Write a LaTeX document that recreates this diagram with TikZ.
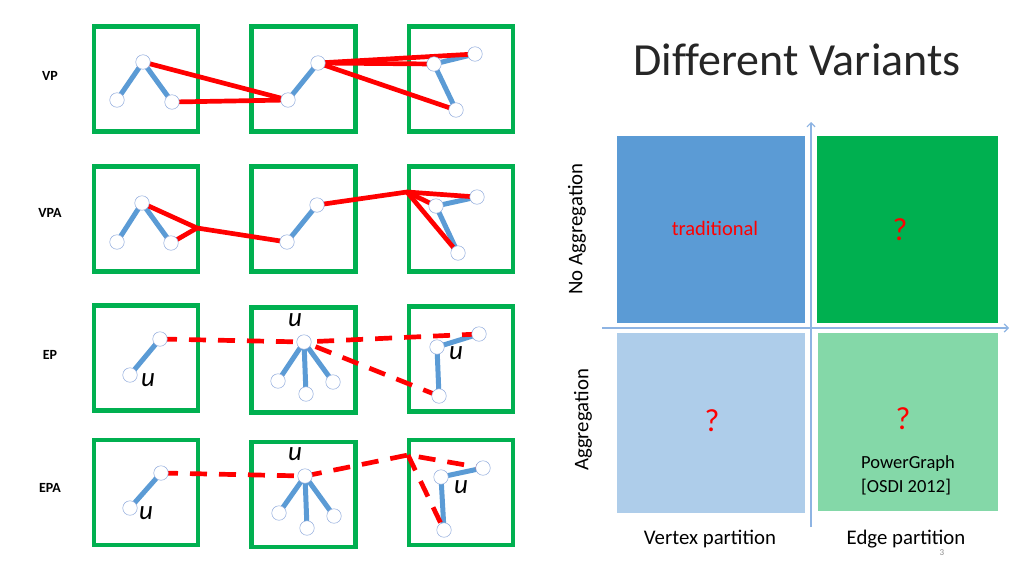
\documentclass[tikz,border=0pt]{standalone}
\usepackage{fontspec}
\setmainfont{Carlito}
\usetikzlibrary{arrows.meta}
\definecolor{boxgreen}{HTML}{00B050}
\definecolor{edgeblue}{HTML}{5B9BD5}
\definecolor{ringblue}{HTML}{8FAADC}
\definecolor{vred}{HTML}{FF0000}
\definecolor{qblue}{HTML}{5B9BD5}
\definecolor{qgreen}{HTML}{00B050}
\definecolor{qlblue}{HTML}{AECDEA}
\definecolor{qlgreen}{HTML}{84D8A8}
\definecolor{axisblue}{HTML}{8EB4E3}
\newfontfamily\titlefont[Ligatures=NoCommon]{Carlito}
\begin{document}
\begin{tikzpicture}[x=1pt,y=-1pt,
  part/.style={draw=boxgreen,line width=4.6pt,minimum width=104pt,minimum height=105pt,inner sep=0pt},
  v/.style={circle,draw=ringblue,fill=white,minimum size=14.5pt,inner sep=0pt,line width=0.5pt},
  be/.style={draw=edgeblue,line width=5pt},
  re/.style={draw=vred,line width=4.7pt},
  rd/.style={draw=vred,line width=4.7pt,dash pattern=on 17pt off 12pt},
  rowlab/.style={font=\bfseries\fontsize{14}{16}\selectfont},
  ulab/.style={font=\itshape\fontsize{27}{30}\selectfont},
  quad/.style={inner sep=0pt,draw=none},
  qtext/.style={text=vred,font=\fontsize{20.5}{24}\selectfont},
  qmark/.style={text=vred,font=\fontsize{32}{36}\selectfont},
  btext/.style={font=\fontsize{20.8}{24}\selectfont},
  axis/.style={draw=axisblue,line width=1.2pt,-{Straight Barb[length=4pt,width=8pt]}}]
\useasboundingbox (0,0) rectangle (1024,576);

% ---------- partition boxes ----------
\node[part] (p11) at (146,79) {};
\node[part] (p12) at (303.5,79) {};
\node[part] (p13) at (461,79) {};
\node[part] (p21) at (146,219) {};
\node[part] (p22) at (303.5,219) {};
\node[part] (p23) at (461,219) {};
\node[part] (p31) at (146,358) {};
\node[part] (p32) at (303.5,360) {};
\node[part] (p33) at (461,359) {};
\node[part] (p41) at (146,492.5) {};
\node[part] (p42) at (303.5,494.5) {};
\node[part] (p43) at (461,492.5) {};

% ---------- row labels ----------
\node[rowlab] (lvp) at (50,76) {VP};
\node[rowlab] (lvpa) at (50,213) {VPA};
\node[rowlab] (lep) at (50,355) {EP};
\node[rowlab] (lepa) at (50,488) {EPA};

% ---------- VP row ----------
\coordinate (a1) at (143,62);
\coordinate (b1) at (117,100);
\coordinate (c1) at (172,102);
\coordinate (d1) at (288,100);
\coordinate (e1) at (318,63);
\coordinate (f1) at (434,64);
\coordinate (g1) at (475,54);
\coordinate (h1) at (456,110);
\draw[be] (a1) -- (b1);
\draw[be] (a1) -- (c1);
\draw[be] (d1) -- (e1);
\draw[be] (f1) -- (g1);
\draw[be] (f1) -- (h1);
\draw[re] (a1) -- (d1);
\draw[re] (c1) -- (d1);
\draw[re] (e1) -- (g1);
\draw[re] (e1) -- (f1);
\draw[re] (e1) -- (h1);
\foreach \n in {a1,b1,c1,d1,e1,f1,g1,h1} \node[v] (n\n) at (\n) {};

% ---------- VPA row ----------
\coordinate (a2) at (142,203);
\coordinate (b2) at (117,242);
\coordinate (c2) at (171,243);
\coordinate (j21) at (197,228);
\coordinate (d2) at (287,242);
\coordinate (e2) at (317,205);
\coordinate (j22) at (407,192);
\coordinate (f2) at (436,206);
\coordinate (g2) at (477,197);
\coordinate (h2) at (458,253);
\draw[be] (a2) -- (b2);
\draw[be] (a2) -- (c2);
\draw[be] (d2) -- (e2);
\draw[be] (f2) -- (g2);
\draw[be] (f2) -- (h2);
\draw[re,line join=round] (a2) -- (j21) -- (d2);
\draw[re,line join=round] (c2) -- (j21);
\draw[re,line join=round] (e2) -- (j22) -- (g2);
\draw[re] (j22) -- (f2);
\draw[re] (j22) -- (h2);
\foreach \n in {a2,b2,c2,d2,e2,f2,g2,h2} \node[v] (n\n) at (\n) {};

% ---------- EP row ----------
\coordinate (a3) at (160,339);
\coordinate (b3) at (130,375);
\coordinate (c3) at (304,342);
\coordinate (l31) at (278,381);
\coordinate (l32) at (306,394);
\coordinate (l33) at (333,382);
\coordinate (d3) at (437,347);
\coordinate (e3) at (479,334);
\coordinate (f3) at (439,396);
\draw[be] (a3) -- (b3);
\draw[be] (c3) -- (l31);
\draw[be] (c3) -- (l32);
\draw[be] (c3) -- (l33);
\draw[be] (d3) -- (e3);
\draw[be] (d3) -- (f3);
\draw[rd] (a3) -- (c3);
\draw[rd] (e3) -- (c3);
\draw[rd] (f3) -- (c3);
\foreach \n in {a3,b3,c3,l31,l32,l33,d3,e3,f3} \node[v] (n\n) at (\n) {};
\node[ulab] (u31) at (148,380) {u};
\node[ulab] (u32) at (295,320) {u};
\node[ulab] (u33) at (456,353) {u};

% ---------- EPA row ----------
\coordinate (a4) at (161,473);
\coordinate (b4) at (130,508);
\coordinate (c4) at (305,476);
\coordinate (l41) at (279,513);
\coordinate (l42) at (307,528);
\coordinate (l43) at (334,516);
\coordinate (j4) at (408,455);
\coordinate (d4) at (441,477);
\coordinate (e4) at (483,468);
\coordinate (f4) at (444,530);
\draw[be] (a4) -- (b4);
\draw[be] (c4) -- (l41);
\draw[be] (c4) -- (l42);
\draw[be] (c4) -- (l43);
\draw[be] (d4) -- (e4);
\draw[be] (d4) -- (f4);
\draw[rd] (a4) -- (c4);
\draw[rd] (c4) -- (j4) -- (e4);
\draw[rd] (j4) -- (f4);
\foreach \n in {a4,b4,c4,l41,l42,l43,d4,e4,f4} \node[v] (n\n) at (\n) {};
\node[ulab] (u41) at (146,513) {u};
\node[ulab] (u42) at (295,454) {u};
\node[ulab] (u43) at (461,487) {u};

% ---------- right panel ----------
\node[font=\titlefont\fontsize{46}{52}\selectfont,text=black!85] (title) at (797,60) {Different Variants};

\node[quad,fill=qblue,minimum width=188pt,minimum height=187pt] (q1) at (711,229.5) {};
\node[quad,fill=qgreen,minimum width=181pt,minimum height=187pt] (q2) at (907.5,229.5) {};
\node[quad,fill=qlblue,minimum width=188pt,minimum height=180pt] (q3) at (711,423) {};
\node[quad,fill=qlgreen,minimum width=180pt,minimum height=178pt] (q4) at (908,422) {};

\coordinate (vb) at (811,527);
\coordinate (vt) at (811,122);
\coordinate (hl) at (602,328);
\coordinate (hr) at (1009,328);
\draw[axis] (vb) -- (vt);
\draw[axis] (hl) -- (hr);

\node[qtext] (trad) at (715,228) {traditional};
\node[qmark] (qm1) at (900,230) {?};
\node[qmark] (qm2) at (712,421) {?};
\node[qmark] (qm3) at (903,419) {?};
\node[font=\fontsize{18.5}{22}\selectfont] (pg) at (908,464) {PowerGraph};
\node[font=\fontsize{18.5}{22}\selectfont] (osdi) at (906,487) {[OSDI 2012]};

\node[btext] (vx) at (710,539) {Vertex partition};
\node[btext] (ed) at (906,539) {Edge partition};
\node[btext,rotate=90] (noag) at (577,229) {No Aggregation};
\node[btext,rotate=90] (ag) at (583,420) {Aggregation};
\node[font=\fontsize{9}{10}\selectfont,text=black!45,inner sep=1pt] (pnum) at (942,553) {3};
\end{tikzpicture}
\end{document}
